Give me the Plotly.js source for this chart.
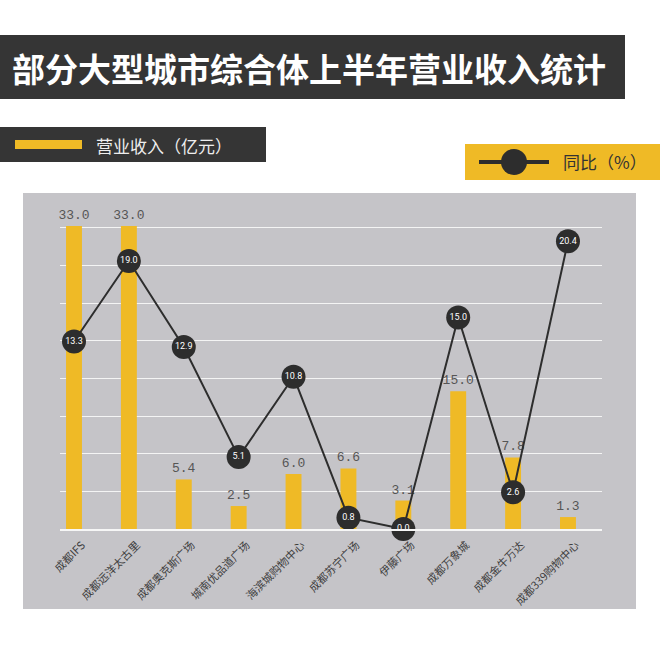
<!DOCTYPE html>
<html>
<head>
<meta charset="utf-8">
<script src="https://cdn.plot.ly/plotly-3.0.1.min.js"></script>
<style>
  html, body { margin: 0; padding: 0; background: #fff; }
  #chart { width: 660px; height: 672px; }
</style>
</head>
<body>
<div id="chart"></div>
<script>
var malls = ['成都IFS', '成都远洋太古里', '成都奥克斯广场', '城南优品道广场', '海滨城购物中心',
  '成都苏宁广场', '伊藤广场', '成都万象城', '成都金牛万达', '成都339购物中心'];
var revenue = [33.0, 33.0, 5.4, 2.5, 6.0, 6.6, 3.1, 15.0, 7.8, 1.3];
var growth = [13.3, 19.0, 12.9, 5.1, 10.8, 0.8, 0.0, 15.0, 2.6, 20.4];

var W = 660, H = 672;
var M = {l: 60, r: 58, t: 200, b: 143};
// pixel -> paper helpers for the decorations
function px(x) { return (x - M.l) / (W - M.l - M.r); }
function py(y) { return (H - M.b - y) / (H - M.t - M.b); }

var CJK = '"Noto Sans CJK SC", "Noto Sans", sans-serif';
var gold = '#EFBA26';
var dark = '#2d2d2d';

var bars = {
  x: malls,
  y: revenue,
  type: 'bar',
  width: 0.29,
  marker: {color: gold},
  text: revenue.map(function (v) { return v.toFixed(1); }),
  textposition: 'outside',
  constraintext: 'none',
  textfont: {family: '"Liberation Mono", "DejaVu Sans Mono", monospace', size: 13, color: '#555'},
  cliponaxis: false,
  hoverinfo: 'x+y'
};

var line = {
  x: malls,
  y: growth,
  yaxis: 'y2',
  type: 'scatter',
  mode: 'lines+markers+text',
  line: {color: dark, width: 2},
  marker: {color: dark, size: 24},
  text: growth.map(function (v) { return v.toFixed(1); }),
  textposition: 'middle center',
  textfont: {family: 'Roboto, sans-serif', size: 9, color: '#fff'},
  cliponaxis: false,
  hoverinfo: 'x+y'
};

var layout = {
  width: W, height: H,
  autosize: false,
  margin: M,
  paper_bgcolor: '#fff',
  plot_bgcolor: 'rgba(0,0,0,0)',
  showlegend: false,
  xaxis: {
    range: [-0.255, 9.62],
    tickangle: -45,
    ticks: '',
    ticklabelstandoff: 4,
    ticklabelshift: 8,
    showline: true, linecolor: '#f6f6f6', linewidth: 1.5,
    showgrid: false,
    tickfont: {family: CJK, size: 11, color: '#3e3e3e'},
    fixedrange: true
  },
  yaxis: {
    range: [0, 35.84],
    tick0: 0, dtick: 4.1,
    showgrid: true, gridcolor: '#f4f4f4', gridwidth: 1,
    zeroline: false,
    showticklabels: false,
    fixedrange: true
  },
  yaxis2: {
    overlaying: 'y',
    range: [0, 23.33],
    showgrid: false, zeroline: false,
    showticklabels: false,
    fixedrange: true
  },
  shapes: [
    // chart panel
    {type: 'rect', xref: 'paper', yref: 'paper', layer: 'below',
      x0: px(23), x1: px(636), y0: py(609), y1: py(193),
      fillcolor: '#c5c4c8', line: {width: 0}},
    // title band
    {type: 'rect', xref: 'paper', yref: 'paper',
      x0: px(0), x1: px(625), y0: py(99), y1: py(35),
      fillcolor: '#353535', line: {width: 0}},
    // bar legend box
    {type: 'rect', xref: 'paper', yref: 'paper',
      x0: px(0), x1: px(266), y0: py(162), y1: py(127),
      fillcolor: '#353535', line: {width: 0}},
    {type: 'rect', xref: 'paper', yref: 'paper',
      x0: px(15), x1: px(82), y0: py(149), y1: py(140),
      fillcolor: gold, line: {width: 0}},
    // line legend box
    {type: 'rect', xref: 'paper', yref: 'paper',
      x0: px(465), x1: px(660), y0: py(180), y1: py(144),
      fillcolor: gold, line: {width: 0}},
    {type: 'line', xref: 'paper', yref: 'paper',
      x0: px(479), x1: px(549), y0: py(162), y1: py(162),
      line: {color: dark, width: 4}},
    {type: 'circle', xref: 'paper', yref: 'paper',
      x0: px(501), x1: px(527), y0: py(175), y1: py(149),
      fillcolor: dark, line: {width: 0}}
  ],
  annotations: [
    {xref: 'paper', yref: 'paper', x: px(10), y: py(68), xanchor: 'left', yanchor: 'middle',
      text: '<b>部分大型城市综合体上半年营业收入统计</b>', showarrow: false,
      font: {family: CJK, size: 33, color: '#fff'}},
    {xref: 'paper', yref: 'paper', x: px(94), y: py(145), xanchor: 'left', yanchor: 'middle',
      text: '营业收入（亿元）', showarrow: false,
      font: {family: CJK, size: 17, color: '#eee'}},
    {xref: 'paper', yref: 'paper', x: px(561), y: py(162), xanchor: 'left', yanchor: 'middle',
      text: '同比（%）', showarrow: false,
      font: {family: CJK, size: 17, color: '#333'}}
  ]
};

Plotly.newPlot('chart', [bars, line], layout, {displayModeBar: false, staticPlot: true});
</script>
</body>
</html>
